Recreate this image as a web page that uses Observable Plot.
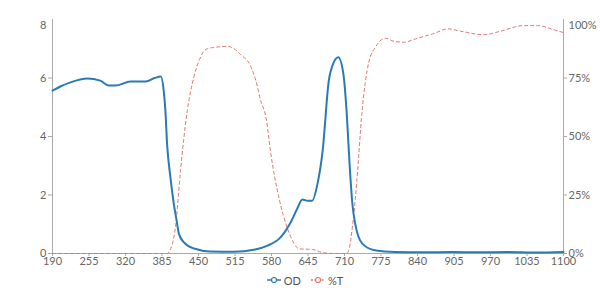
<!DOCTYPE html>
<html><head><meta charset="utf-8">
<script src="https://cdn.jsdelivr.net/npm/d3@7"></script>
<script src="https://cdn.jsdelivr.net/npm/@observablehq/plot@0.6"></script>
<style>
body{margin:0;background:#fff;font-family:Lato,sans-serif;}
#legend{display:flex;justify-content:center;align-items:center;gap:10px;height:16px;font-size:11px;color:#555;padding-left:10px;}
#legend span{display:inline-flex;align-items:center;gap:3px;}
</style></head><body>
<div id="chart"></div>
<div id="legend"></div>
<script>
// OD series
const odWavelengths = [190,204,222,252,275,290,302,329,356,372,383,388,391,394,400,406,411,415,424,442,471,512,551,573,596,614,626,635,644,652,662,671,682,690,699,708,714,719,724,729,742,766,800,850,900,950,1000,1050,1100];
const odValues = [5.57,5.71,5.85,5.98,5.91,5.74,5.74,5.88,5.88,6.0,6.05,5.57,4.9,3.76,2.6,1.7,1.13,0.68,0.38,0.17,0.07,0.06,0.14,0.27,0.55,1.06,1.54,1.85,1.8,1.8,2.39,3.5,5.9,6.5,6.71,6.14,4.78,3.07,1.7,1.02,0.33,0.1,0.05,0.04,0.05,0.04,0.05,0.03,0.05];
// %T series
const tWavelengths = [190,395,397,409,418,430,442,452,462,475,503,510,525,543,552,560,571,578,594,608,630,653,671,690,712,716,726,732,741,753,766,783,798,815,840,869,894,917,958,988,1029,1054,1082,1100];
const tValues = [0,0,0.5,11.3,35.6,61,75.7,83,87,88,88.5,88,85,80,74,66,57,44,23,11,2,1.7,0.4,0,0,0.5,15.6,31,60,81.5,88.5,92,90.7,90.3,92,94,96,95,93.5,95,97.4,97.4,95.7,94.4];

const xTicks = [190,255,320,385,450,515,580,645,710,775,840,905,970,1035,1100];
const leftTicks = [0,2,4,6,8];
const rightTicks = [0,25,50,75,100];
const seriesNames = ["OD","%T"];
const seriesColors = ["#2a7ab4","#e07272"];
const pctPerOD = 12.5; // right axis 0–100% shares the left axis 0–8 range

const odData = odWavelengths.map((w,i)=>({w, v: odValues[i]}));
const tData = tWavelengths.map((w,i)=>({w, v: tValues[i]}));
const yTop = leftTicks[leftTicks.length - 1];

const chart = Plot.plot({
  width: 600, height: 272,
  marginLeft: 52, marginRight: 37, marginTop: 19, marginBottom: 19,
  style: {fontFamily: "Lato, sans-serif", fontSize: "11px", color: "#666", background: "#fff"},
  x: {domain: [190, 1100]},
  y: {domain: [0, 8]},
  marks: [
    Plot.ruleX([190, 1100], {stroke: "#aaa", strokeWidth: 1}),
    Plot.ruleY([0], {stroke: "#aaa", strokeWidth: 1}),
    Plot.axisX({ticks: xTicks, tickFormat: d => String(d), tickSize: 3, tickPadding: 1, stroke: "#aaa", fill: "#666", label: null}),
    Plot.axisY({anchor: "left", ticks: leftTicks.filter(t => t !== yTop), tickFormat: d => String(d), tickSize: 4, tickPadding: 2, stroke: "#aaa", fill: "#666", label: null}),
    Plot.axisY({anchor: "left", ticks: [yTop], tickFormat: d => String(d), tickSize: 0, tickPadding: 6, dy: 6, fill: "#666", label: null}),
    Plot.axisY({anchor: "right", ticks: rightTicks.filter(p => p !== 100).map(p => p / pctPerOD), tickFormat: d => Math.round(d * pctPerOD) + "%", tickSize: 3, tickPadding: 2, stroke: "#aaa", fill: "#666", label: null}),
    Plot.axisY({anchor: "right", ticks: [yTop], tickFormat: d => Math.round(d * pctPerOD) + "%", tickSize: 0, tickPadding: 5, dy: 6, fill: "#666", label: null}),
    Plot.line(tData, {x: "w", y: d => d.v / pctPerOD, stroke: seriesColors[1], strokeWidth: 1, strokeDasharray: "3,3", curve: "monotone-x"}),
    Plot.line(odData, {x: "w", y: "v", stroke: seriesColors[0], strokeWidth: 2, curve: "monotone-x"})
  ]
});
document.getElementById("chart").append(chart);

const legend = document.getElementById("legend");
seriesNames.forEach((name, i) => {
  const s = document.createElement("span");
  const dash = i === 1 ? ' stroke-dasharray="2,1.5"' : '';
  s.innerHTML = `<svg width="14" height="8"><line x1="0" y1="4" x2="14" y2="4" stroke="${seriesColors[i]}" stroke-width="1.5"${dash}/><circle cx="7" cy="4" r="2.5" fill="#fff" stroke="${seriesColors[i]}" stroke-width="1.2"/></svg><span>${name}</span>`;
  legend.append(s);
});
</script>
</body></html>
